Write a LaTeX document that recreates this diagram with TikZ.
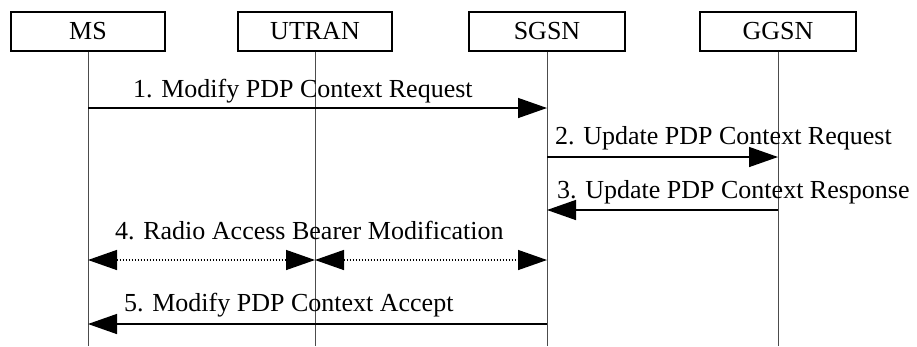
\documentclass[tikz,border=0pt]{standalone}
\usepackage{fontspec}
\setmainfont{Liberation Serif}
\usetikzlibrary{arrows.meta}
\begin{document}
\begin{tikzpicture}[x=1pt,y=-1pt,
  every node/.style={font=\fontsize{26}{30}\selectfont, inner sep=0pt},
  entity/.style={draw, line width=1.4pt, minimum height=39pt, fill=white},
  life/.style={draw=black!70, line width=0.8pt},
  msg/.style={line width=1.4pt, -{Triangle[length=29pt,width=20pt]}},
  dmsg/.style={line width=1.4pt, dash pattern=on 1.2pt off 1.8pt,
    {Triangle[length=29pt,width=20pt]}-{Triangle[length=29pt,width=20pt]}},
  lbl/.style={anchor=base west}]
\useasboundingbox (0,0) rectangle (917,346);
% lifeline bottoms
\coordinate (bot) at (0,346);
% entities
\node[entity, minimum width=154pt] (ms) at (88,31.5) {MS};
\node[entity, minimum width=154pt] (utran) at (315,31.5) {UTRAN};
\node[entity, minimum width=156pt] (sgsn) at (547,31.5) {SGSN};
\node[entity, minimum width=156pt] (ggsn) at (778,31.5) {GGSN};
% lifelines
\foreach \n in {ms,utran,sgsn,ggsn}
  \draw[life] (\n.south) -- (\n.south |- bot);
% message levels
\coordinate (y1) at (0,108);
\coordinate (y2) at (0,157);
\coordinate (y3) at (0,210);
\coordinate (y4) at (0,260);
\coordinate (y5) at (0,324);
% messages
\draw[msg] (ms |- y1) -- (sgsn |- y1);
\node[lbl] (t1) at (133,97) {1. Modify PDP Context Request};
\draw[msg] (sgsn |- y2) -- (ggsn |- y2);
\node[lbl] (t2) at (555,144) {2. Update PDP Context Request};
\draw[msg] (ggsn |- y3) -- (sgsn |- y3);
\node[lbl] (t3) at (557,198) {3. Update PDP Context Response};
\draw[dmsg] (ms |- y4) -- (utran |- y4);
\draw[dmsg] (utran |- y4) -- (sgsn |- y4);
\node[lbl] (t4) at (115,239) {4. Radio Access Bearer Modification};
\draw[msg] (sgsn |- y5) -- (ms |- y5);
\node[lbl] (t5) at (124,311) {5. Modify PDP Context Accept};
\end{tikzpicture}
\end{document}
